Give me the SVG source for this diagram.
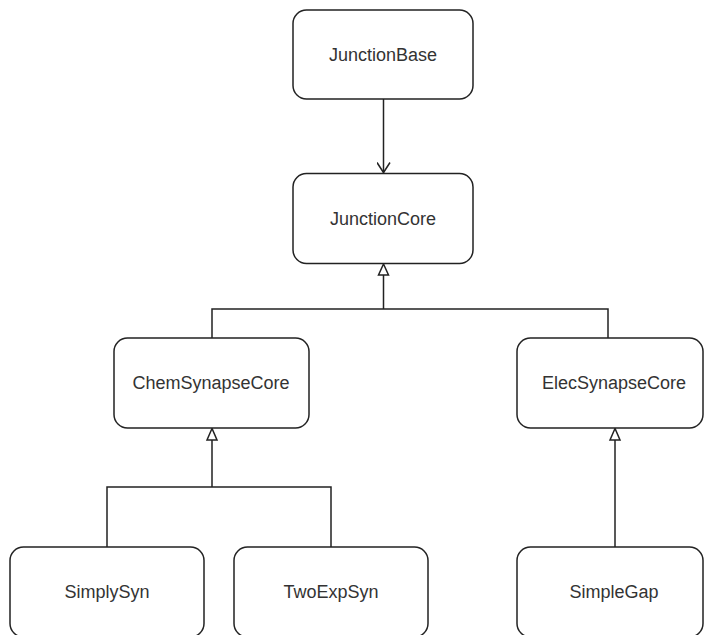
<svg xmlns="http://www.w3.org/2000/svg" width="704" height="635" viewBox="0 0 704 635">
  <style>
    .node rect { fill: #ffffff; stroke: #222222; stroke-width: 1.5; }
    .node text { font-family: "Liberation Sans", Arial, Helvetica, sans-serif; font-size: 18px; fill: #333333; text-anchor: middle; }
    .edge { fill: none; stroke: #222222; stroke-width: 1.5; }
    .tri { fill: #ffffff; stroke: #222222; stroke-width: 1.5; stroke-linejoin: miter; }
  </style>
  <defs>
    <!-- open "V" arrowhead, tip at the origin, pointing along +x -->
    <marker id="open-arrow" viewBox="-11 -7 12 14" refX="0" refY="0" markerWidth="12" markerHeight="14" markerUnits="userSpaceOnUse" orient="auto">
      <path d="M-10 -6.5 L0 0 L-10 6.5" fill="none" stroke="#222222" stroke-width="1.5"/>
    </marker>
  </defs>
  <rect width="704" height="635" fill="#ffffff"/>

  <!-- connectors -->
  <g id="connectors">
    <!-- JunctionBase to JunctionCore -->
    <path class="edge" d="M383.5 99 L383.5 172.5" marker-end="url(#open-arrow)"/>
    <!-- Chem/Elec to JunctionCore -->
    <path class="edge" d="M383.5 275 L383.5 309 M212 338 L212 309 L608 309 L608 338"/>
    <path class="tri" d="M383.5 264 L378.5 275 L388.5 275 Z"/>
    <!-- SimplySyn/TwoExpSyn to ChemSynapseCore -->
    <path class="edge" d="M212 440 L212 487 M107 547 L107 487 L331 487 L331 547"/>
    <path class="tri" d="M212 428.5 L207 440 L217 440 Z"/>
    <!-- SimpleGap to ElecSynapseCore -->
    <path class="edge" d="M615 440 L615 547"/>
    <path class="tri" d="M615 428.5 L610 440 L620 440 Z"/>
  </g>

  <g id="JunctionBase" class="node">
    <rect x="293" y="10" width="180" height="89" rx="13.5"/>
    <text x="383" y="61">JunctionBase</text>
  </g>
  <g id="JunctionCore" class="node">
    <rect x="293" y="173.5" width="180" height="90" rx="13.5"/>
    <text x="383" y="224.5">JunctionCore</text>
  </g>
  <g id="ChemSynapseCore" class="node">
    <rect x="114" y="338" width="195" height="90" rx="13.5"/>
    <text x="211" y="389">ChemSynapseCore</text>
  </g>
  <g id="ElecSynapseCore" class="node">
    <rect x="517" y="338" width="186" height="90" rx="13.5"/>
    <text x="614" y="389">ElecSynapseCore</text>
  </g>
  <g id="SimplySyn" class="node">
    <rect x="10" y="547" width="194" height="90" rx="13.5"/>
    <text x="107" y="598">SimplySyn</text>
  </g>
  <g id="TwoExpSyn" class="node">
    <rect x="234" y="547" width="194" height="90" rx="13.5"/>
    <text x="331" y="598">TwoExpSyn</text>
  </g>
  <g id="SimpleGap" class="node">
    <rect x="517" y="547" width="186" height="90" rx="13.5"/>
    <text x="614" y="598">SimpleGap</text>
  </g>
</svg>
